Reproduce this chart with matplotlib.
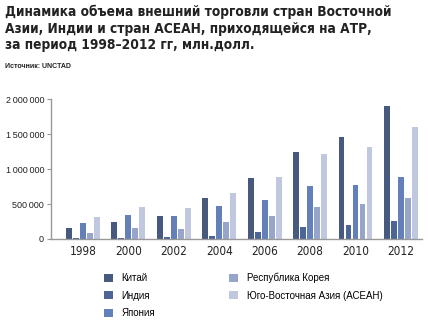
import numpy as np
import matplotlib
matplotlib.use('Agg')
import matplotlib.pyplot as plt
from matplotlib.patches import Patch

years = ['1998', '2000', '2002', '2004', '2006', '2008', '2010', '2012']
series_names = ['Китай', 'Индия', 'Япония', 'Республика Корея', 'Юго-Восточная Азия (АСЕАН)']
china = [161000, 243000, 324000, 590000, 881000, 1245000, 1457000, 1910000]
india = [15000, 20000, 25000, 48000, 96000, 171000, 205000, 262000]
japan = [233000, 343000, 324000, 471000, 562000, 757000, 781000, 890000]
korea = [90000, 153000, 148000, 243000, 324000, 457000, 500000, 590000]
asean = [314000, 453000, 440000, 657000, 886000, 1219000, 1314000, 1600000]
colors = ['#465a80', '#4d6594', '#6381b8', '#98a5cb', '#bfc8de']

yticks = [0, 500000, 1000000, 1500000, 2000000]
ytick_labels = ['0', '500\u2009000', '1\u2009000\u2009000', '1\u2009500\u2009000', '2\u2009000\u2009000']

sans = ['Liberation Sans', 'DejaVu Sans']

fig = plt.figure(figsize=(4.28, 3.24), dpi=100)

fig.text(5/428, 1 - 5/324,
         'Динамика объема внешний торговли стран Восточной\n'
         'Азии, Индии и стран АСЕАН, приходящейся на АТР,\n'
         'за период 1998–2012 гг, млн.долл.',
         family='DejaVu Sans', stretch='condensed', weight='bold', fontsize=9.8,
         color='#222222', va='top', ha='left', linespacing=1.22)
fig.text(5/428, 1 - 68/324, 'Источник: UNCTAD', family=sans, weight='bold',
         fontsize=5, color='#222222', va='baseline', ha='left')

ax = fig.add_axes([51/428, 85/324, 371/428, 139.5/324])
x = np.arange(len(years))
pitch = 0.154
width = 0.125
data = [china, india, japan, korea, asean]
for i, (vals, c) in enumerate(zip(data, colors)):
    ax.bar(x + (i - 2) * pitch, vals, width=width, color=c, edgecolor='none')

ax.set_ylim(0, 2000000)
ax.set_xlim(-0.7, len(years) - 1 + 0.46)
ax.set_yticks(yticks)
ax.set_yticklabels(ytick_labels, family=sans, fontsize=6.5, color='#222222')
ax.set_xticks(x)
ax.set_xticklabels(years, family='DejaVu Sans', stretch='condensed', fontsize=8.5, color='#222222')
ax.tick_params(axis='x', length=0, pad=4)
ax.tick_params(axis='y', length=3, width=0.8, color='#999999', pad=2)
for s in ['top', 'right']:
    ax.spines[s].set_visible(False)
for s in ['left', 'bottom']:
    ax.spines[s].set_color('#999999')
    ax.spines[s].set_linewidth(1.0)

handles = [Patch(facecolor=c, edgecolor='none') for c in colors]
fig.legend(handles, series_names, loc='upper left', bbox_to_anchor=(104/428, 1 - 273/324),
           ncol=2, frameon=False, handlelength=0.9, handleheight=0.9, handletextpad=0.9,
           columnspacing=7.6, labelspacing=0.75, borderaxespad=0, borderpad=0,
           prop={'family': sans, 'size': 7})

fig.savefig('out.png', dpi=100)
